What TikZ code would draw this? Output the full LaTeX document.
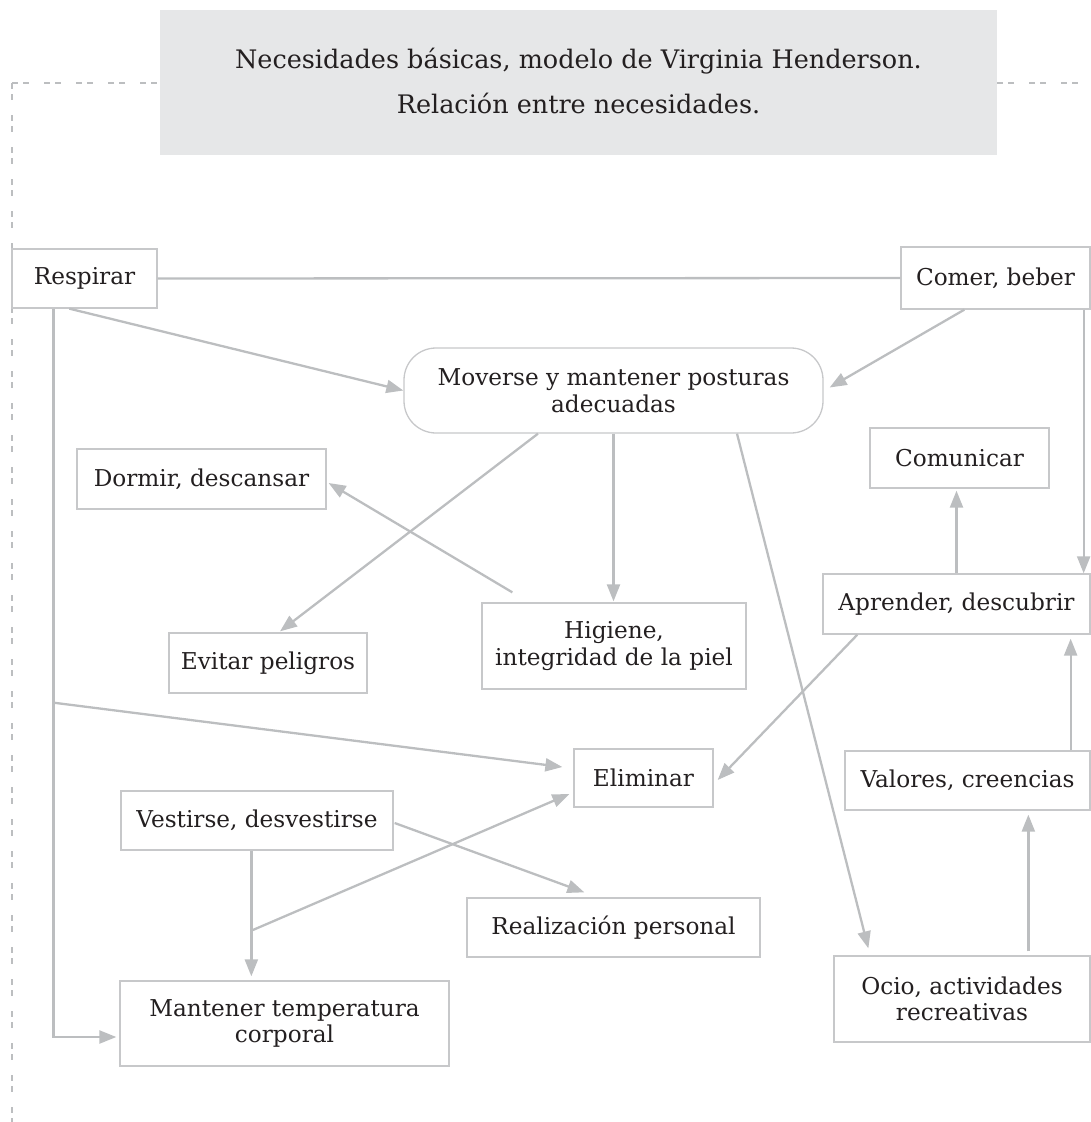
\documentclass[tikz,border=0pt]{standalone}
\usepackage{fontspec}
\setmainfont{DejaVu Serif}
\usetikzlibrary{arrows.meta,calc}

\definecolor{linkgray}{HTML}{BCBEC0}
\definecolor{framegray}{HTML}{C7C8CA}
\definecolor{titlefill}{HTML}{E6E7E8}
\definecolor{inkdark}{HTML}{231F20}

\tikzset{
  need/.style={draw=framegray, line width=1.3pt, fill=white, inner sep=0pt,
    text=inkdark, align=center, font=\fontsize{23.2}{26.5}\selectfont},
  link/.style={draw=linkgray, line width=2.3pt},
  arr/.style={link, -{Triangle[length=17pt,width=13pt]}},
  border/.style={draw=linkgray, line width=2pt, dash pattern=on 6pt off 5pt on 6pt off 15pt},
  headtext/.style={text=inkdark, font=\fontsize{25.5}{30}\selectfont, inner sep=0pt}
}

\begin{document}
\begin{tikzpicture}[x=1pt,y=-1pt]
\useasboundingbox (0,0) rectangle (1091,1122);

% title panel
\node[fill=titlefill, minimum width=837pt, minimum height=145pt, inner sep=0pt] (title) at (578.5,82.5) {};
\node[headtext, anchor=base] (title1) at (578.5,68) {Necesidades básicas, modelo de Virginia Henderson.};
\node[headtext, anchor=base] (title2) at (578.5,113) {Relación entre necesidades.};

% dashed page frame
\coordinate (fl) at (12,83);
\coordinate (fr) at (1091,83);
\coordinate (fb) at (12,1122);
\draw[border] (fl) -- (fl -| title.west);
\draw[border] (fl -| title.east) -- (fr);
\draw[border] (fl) -- (fb);

% needs
\node[need, minimum width=145pt, minimum height=59pt] (resp) at (84.5,278.5) {Respirar};
\node[need, minimum width=189pt, minimum height=62pt] (comer) at (995.5,278) {Comer, beber};
\node[need, minimum width=419pt, minimum height=85pt, rounded corners=32pt] (mov) at (613.5,390.5) {Moverse y mantener posturas\\adecuadas};
\node[need, minimum width=249pt, minimum height=60pt] (dorm) at (201.5,479) {Dormir, descansar};
\node[need, minimum width=179pt, minimum height=60pt] (comu) at (959.5,458) {Comunicar};
\node[need, minimum width=198pt, minimum height=60pt] (evit) at (268,663) {Evitar peligros};
\node[need, minimum width=264pt, minimum height=86pt] (hig) at (614,646) {Higiene,\\integridad de la piel};
\node[need, minimum width=267pt, minimum height=60pt] (apr) at (956.5,604) {Aprender, descubrir};
\node[need, minimum width=139pt, minimum height=58pt] (elim) at (643.5,778) {Eliminar};
\node[need, minimum width=245pt, minimum height=59pt] (val) at (967.5,780.5) {Valores, creencias};
\node[need, minimum width=272pt, minimum height=59pt] (vest) at (257,820.5) {Vestirse, desvestirse};
\node[need, minimum width=293pt, minimum height=59pt] (real) at (613.5,927.5) {Realización personal};
\node[need, minimum width=329pt, minimum height=85pt] (mant) at (284.5,1023.5) {Mantener temperatura\\corporal};
\node[need, minimum width=256pt, minimum height=86pt] (ocio) at (962,999) {Ocio, actividades\\recreativas};

% relations
\draw[link] (resp.east) -- (comer.west);
\draw[arr] ($(resp.south west)+(58,0)$) -- (mov.west);
\draw[arr] ($(comer.south west)+(64,0)$) -- ($(mov.east)+(6,-3)$);
\draw[arr] ($(comer.south east)+(-7,0)$) -- ($(apr.north east)+(-7,0)$);

\coordinate (r0) at ($(resp.south west)+(42,0)$);
\coordinate (b1) at ($(resp.south west)+(42,394)$);
\draw[arr] (r0) |- ($(mant.west)+(-3,13.5)$);
\draw[arr] (b1) -- ($(elim.west)+(-11,-11)$);

\draw[arr] ($(mov.south)+(-75.5,0)$) -- ($(evit.north)+(12,-1)$);
\draw[arr] (mov.south) -- ($(mov.south |- hig.north)+(0,-1)$);
\draw[arr] ($(hig.north west)+(31,-10)$) -- ($(dorm.east)+(2,4)$);
\draw[arr] ($(mov.south)+(123.5,0)$) -- ($(ocio.north west)+(35,-7)$);

\draw[arr] (apr.north) -- ($(apr.north |- comu.south)+(0,2)$);
\draw[arr] ($(apr.south west)+(35,0)$) -- ($(elim.east)+(4,2)$);
\draw[arr] ($(val.north east)+(-20,0)$) -- ($(apr.south east)+(-20,4)$);
\draw[arr] ($(ocio.north west)+(195,-4)$) -- ($(val.south west)+(184,4)$);

\coordinate (v0) at ($(vest.south west)+(131,0)$);
\coordinate (b2) at ($(vest.south west)+(131,80)$);
\draw[arr] (v0) -- ($(v0 |- mant.north)+(0,-4)$);
\draw[arr] (b2) -- ($(elim.west)+(-4,16)$);
\draw[arr] ($(vest.east)+(1,2.5)$) -- ($(real.north west)+(118,-5)$);
\end{tikzpicture}
\end{document}
